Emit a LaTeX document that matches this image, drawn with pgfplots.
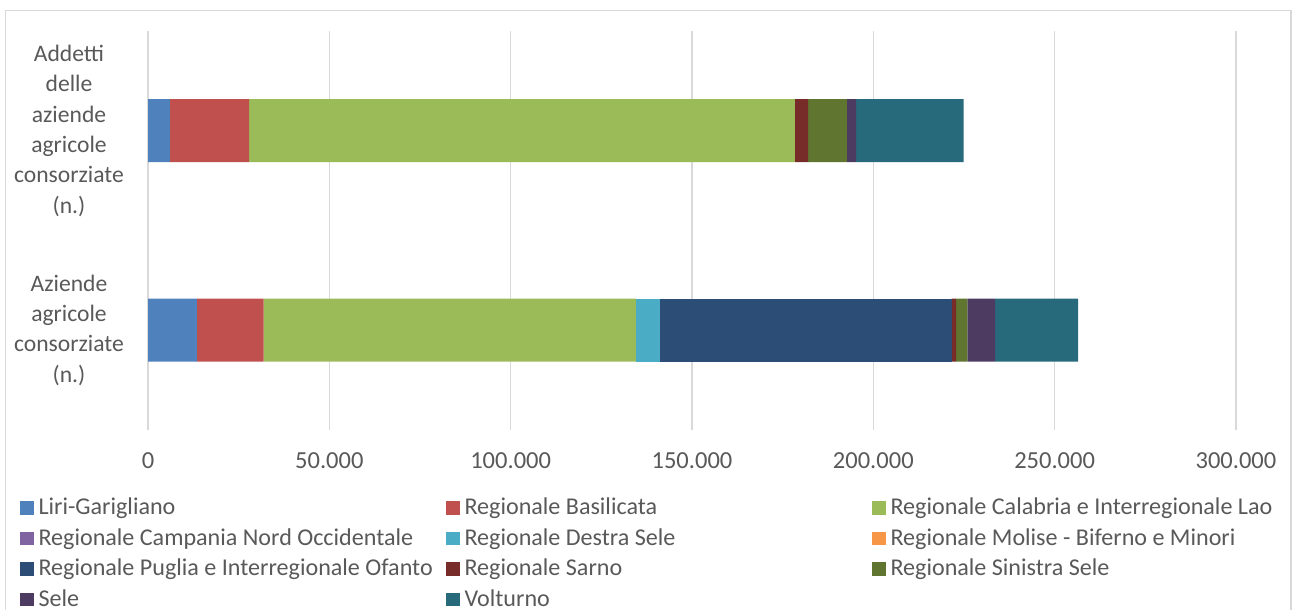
\documentclass[border=0pt]{standalone}
\usepackage{fontspec}
\setmainfont{Carlito}
\usepackage{pgfplots}
\pgfplotsset{compat=1.18}

\definecolor{tc}{HTML}{595959}
\definecolor{gridc}{HTML}{D9D9D9}
\definecolor{liri}{HTML}{4F81BD}
\definecolor{basil}{HTML}{C0504D}
\definecolor{calab}{HTML}{9BBB59}
\definecolor{campa}{HTML}{8064A2}
\definecolor{dsele}{HTML}{4BACC6}
\definecolor{molise}{HTML}{F79646}
\definecolor{puglia}{HTML}{2C4D75}
\definecolor{sarno}{HTML}{772C2A}
\definecolor{ssele}{HTML}{5F7530}
\definecolor{sele}{HTML}{4D3B62}
\definecolor{volt}{HTML}{276A7C}

\newcommand{\lab}[1]{\hspace{5bp}\makebox[407.5bp][l]{#1}}

\begin{document}
\begin{tikzpicture}[x=1bp,y=1bp]
\useasboundingbox (0,0) rectangle (1292,610);
\draw[color=gridc, line width=1.5bp] (5.5,-5) -- (5.5,599.5) -- (1291,599.5) -- (1291,-5);
\begin{axis}[
  at={(148bp,180bp)}, anchor=south west,
  scale only axis, width=1088bp, height=399bp,
  xbar stacked, bar width=63bp,
  xmin=0, xmax=300000, ymin=-0.5, ymax=1.5,
  xtick={0,50000,...,300000},
  scaled x ticks=false,
  ytick={0,1},
  yticklabels={{Aziende\\agricole\\consorziate\\(n.)},{Addetti\\delle\\aziende\\agricole\\consorziate\\(n.)}},
  ticklabel style={text=tc},
  yticklabel style={font=\fontsize{23.6bp}{30.3bp}\selectfont},
  xticklabel style={font=\fontsize{24.5bp}{30bp}\selectfont, anchor=base, yshift=-39bp,
    /pgf/number format/fixed, /pgf/number format/1000 sep={.},
    /pgf/number format/assume math mode=true},
  yticklabel style={align=center, anchor=center, xshift=-79bp},
  major tick length=0pt,
  axis line style={draw=none},
  xmajorgrids, ymajorgrids=false,
  major grid style={color=gridc, line width=1.5bp},
  every axis plot post/.append style={legend image code/.code={
      \fill[#1] (0bp,0bp) rectangle (13.5bp,13.5bp);}},
  legend columns=3,
  legend cell align=left,
  legend style={at={(axis description cs:-0.11765,-0.1629)}, anchor=north west,
    draw=none, fill=none, inner sep=0pt, outer sep=0pt,
    column sep=0pt, row sep=0pt,
    font=\fontsize{24.1bp}{26bp}\selectfont, text=tc,
    nodes={inner sep=0pt, outer sep=0pt, text height=20bp, text depth=10.5bp, anchor=base west}},
]
\addplot[fill=liri, draw=none] coordinates {(13500,0) (6000,1)};
\addlegendentry{\lab{Liri-Garigliano}}
\addplot[fill=basil, draw=none] coordinates {(18400,0) (21860,1)};
\addlegendentry{\lab{Regionale Basilicata}}
\addplot[fill=calab, draw=none] coordinates {(102600,0) (150500,1)};
\addlegendentry{\lab{Regionale Calabria e Interregionale Lao}}
\addplot[fill=campa, draw=none] coordinates {(0,0) (0,1)};
\addlegendentry{\lab{Regionale Campania Nord Occidentale}}
\addplot[fill=dsele, draw=none] coordinates {(6600,0) (0,1)};
\addlegendentry{\lab{Regionale Destra Sele}}
\addplot[fill=molise, draw=none] coordinates {(0,0) (0,1)};
\addlegendentry{\lab{Regionale Molise - Biferno e Minori}}
\addplot[fill=puglia, draw=none] coordinates {(80500,0) (0,1)};
\addlegendentry{\lab{Regionale Puglia e Interregionale Ofanto}}
\addplot[fill=sarno, draw=none] coordinates {(1200,0) (3640,1)};
\addlegendentry{\lab{Regionale Sarno}}
\addplot[fill=ssele, draw=none] coordinates {(3100,0) (10700,1)};
\addlegendentry{\lab{Regionale Sinistra Sele}}
\addplot[fill=sele, draw=none] coordinates {(7700,0) (2560,1)};
\addlegendentry{\lab{Sele}}
\addplot[fill=volt, draw=none] coordinates {(22900,0) (29630,1)};
\addlegendentry{\lab{Volturno}}
\end{axis}
\end{tikzpicture}
\end{document}
